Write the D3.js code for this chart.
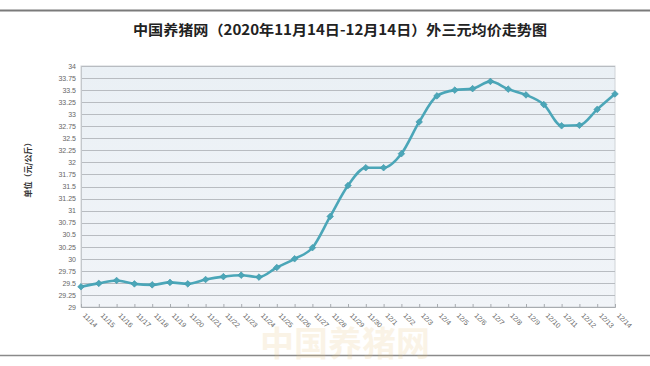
<!DOCTYPE html>
<html><head><meta charset="utf-8">
<script src="https://cdn.jsdelivr.net/npm/d3@7/dist/d3.min.js"></script>
<style>body{margin:0;background:#fff}svg{display:block}</style>
</head><body>
<svg id="c" width="650" height="366"></svg>
<script>
const title = "中国养猪网（2020年11月14日-12月14日）外三元均价走势图";
const yTitle = "单位（元/公斤）";
const categories = ["11/14","11/15","11/16","11/17","11/18","11/19","11/20","11/21","11/22","11/23","11/24","11/25","11/26","11/27","11/28","11/29","11/30","12/1","12/2","12/3","12/4","12/5","12/6","12/7","12/8","12/9","12/10","12/11","12/12","12/13","12/14"];
const prices = [29.42,29.49,29.55,29.48,29.46,29.51,29.48,29.57,29.63,29.66,29.62,29.82,30.0,30.23,30.88,31.52,31.89,31.89,32.18,32.84,33.38,33.5,33.53,33.68,33.52,33.4,33.2,32.76,32.77,33.1,33.42];
const yTicks = [29,29.25,29.5,29.75,30,30.25,30.5,30.75,31,31.25,31.5,31.75,32,32.25,32.5,32.75,33,33.25,33.5,33.75,34];

const svg = d3.select("#c");
const L = 81, R = 615, T = 66, B = 307;
const x = d3.scalePoint().domain(categories).range([L, R]);
const y = d3.scaleLinear().domain([29, 34]).range([B, T]);

// frame lines
svg.append("line").attr("x1",0).attr("x2",650).attr("y1",10.5).attr("y2",10.5).attr("stroke","#7a7a7a").attr("stroke-width",2);
svg.append("line").attr("x1",0).attr("x2",650).attr("y1",355.5).attr("y2",355.5).attr("stroke","#8a8a8a").attr("stroke-width",1.5);

// watermark
svg.append("text").attr("x",345).attr("y",356).attr("text-anchor","middle")
  .attr("font-family","Noto Sans CJK SC").attr("font-weight","bold").attr("font-size",34)
  .attr("fill","#e8c27a").attr("opacity",0.18).text("中国养猪网");

// title
svg.append("text").attr("x",340).attr("y",35).attr("text-anchor","middle")
  .attr("font-family","Noto Sans CJK SC").attr("font-weight","bold").attr("font-size",14)
  .attr("fill","#222").attr("textLength",414).attr("lengthAdjust","spacingAndGlyphs").text(title);

// plot background
const defs = svg.append("defs");
const g = defs.append("linearGradient").attr("id","bg").attr("x1",0).attr("y1",0).attr("x2",0).attr("y2",1);
g.append("stop").attr("offset","0%").attr("stop-color","#eaf0f5");
g.append("stop").attr("offset","100%").attr("stop-color","#f1f4f8");
svg.append("rect").attr("x",L).attr("y",T).attr("width",R-L).attr("height",B-T).attr("fill","url(#bg)").attr("stroke","#d0d4d8");

// gridlines
svg.append("g").selectAll("line").data(yTicks).join("line")
  .attr("x1",L).attr("x2",R).attr("y1",d=>Math.round(y(d))+0.5).attr("y2",d=>Math.round(y(d))+0.5)
  .attr("stroke","#b8bcc1").attr("stroke-width",1.2);

// y axis
const ya = svg.append("g").attr("transform",`translate(${L},0)`)
  .call(d3.axisLeft(y).tickValues(yTicks).tickSize(0).tickPadding(5).tickFormat(d=>String(d)));
ya.select(".domain").attr("stroke","#c4c8cc");
ya.selectAll("text").attr("font-family","Liberation Sans").attr("font-size",7).attr("fill","#666");

// x axis
const xa = svg.append("g").attr("transform",`translate(0,${B})`)
  .call(d3.axisBottom(x).tickSize(-3).tickPadding(0));
xa.select(".domain").attr("stroke","#a8acb0");
xa.selectAll(".tick line").attr("stroke","#a8acb0");
xa.selectAll("text").attr("font-family","Liberation Sans").attr("font-size",7).attr("fill","#666")
  .attr("text-anchor","start").attr("dy",0).attr("y",0)
  .attr("transform","translate(1,9) rotate(45)");

// y title
svg.append("text").attr("transform","translate(31,168) rotate(-90)").attr("text-anchor","middle")
  .attr("font-family","Noto Sans CJK SC").attr("font-weight","bold").attr("font-size",8)
  .attr("fill","#333").text(yTitle);

// line
const line = d3.line().x((d,i)=>x(categories[i])).y(d=>y(d)).curve(d3.curveMonotoneX);
svg.append("path").datum(prices).attr("d",line).attr("fill","none")
  .attr("stroke","#4ba6b8").attr("stroke-width",2.6).attr("stroke-linejoin","round");

// markers (small diamonds)
svg.append("g").selectAll("path").data(prices).join("path")
  .attr("transform",(d,i)=>`translate(${x(categories[i])},${y(d)}) rotate(45)`)
  .attr("d",d3.symbol().type(d3.symbolSquare).size(22))
  .attr("fill","#4ba6b8").attr("stroke","#3f98aa").attr("stroke-width",0.6);
</script>
</body></html>
